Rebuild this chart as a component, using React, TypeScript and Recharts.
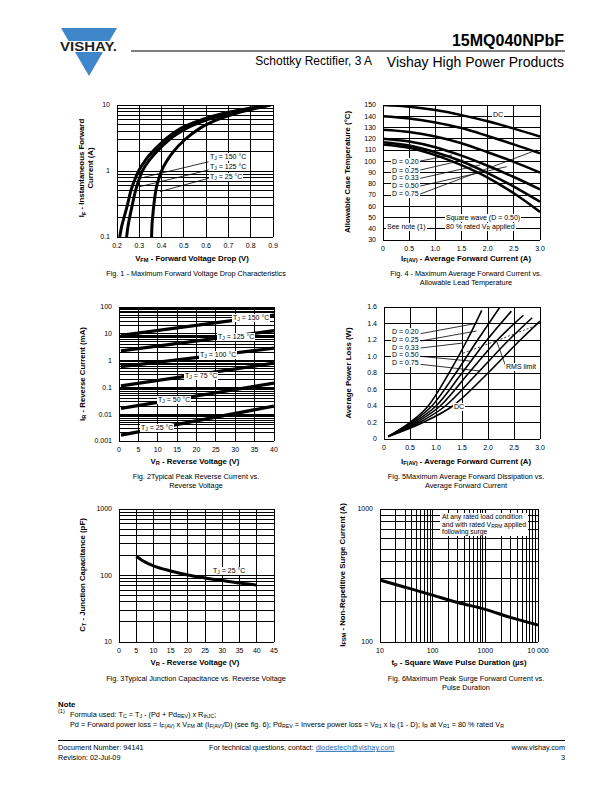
import { LineChart, Line, XAxis, YAxis, CartesianGrid, ReferenceLine } from "recharts";
import type { ReactNode } from "react";

// ─────────────────────────────────────────────────────────────────────────────
// Data
// ─────────────────────────────────────────────────────────────────────────────

// Fig. 1 - forward voltage drop (V) vs. instantaneous forward current (A)
const FIG1_X_TICKS = [0.2, 0.3, 0.4, 0.5, 0.6, 0.7, 0.8, 0.9];
const FIG1_Y_TICKS = [0.1, 0.2, 0.3, 0.4, 0.5, 0.6, 0.7, 0.8, 0.9, 1, 2, 3, 4, 5, 6, 7, 8, 9, 10];
const FIG1_Y_LABELS = [0.1, 1, 10];
const FIG1_TJ150 = [
  { v: 0.212, i: 0.1 }, { v: 0.222, i: 0.15 }, { v: 0.232, i: 0.2 }, { v: 0.246, i: 0.3 },
  { v: 0.262, i: 0.5 }, { v: 0.277, i: 0.7 }, { v: 0.297, i: 1 }, { v: 0.33, i: 1.5 },
  { v: 0.362, i: 2 }, { v: 0.415, i: 3 }, { v: 0.49, i: 4.5 }, { v: 0.58, i: 6 },
  { v: 0.68, i: 7.5 }, { v: 0.8, i: 9 }, { v: 0.87, i: 10 },
];
const FIG1_TJ125 = [
  { v: 0.243, i: 0.1 }, { v: 0.25, i: 0.15 }, { v: 0.257, i: 0.2 }, { v: 0.268, i: 0.3 },
  { v: 0.283, i: 0.5 }, { v: 0.296, i: 0.7 }, { v: 0.314, i: 1 }, { v: 0.348, i: 1.5 },
  { v: 0.38, i: 2 }, { v: 0.435, i: 3 }, { v: 0.515, i: 4.5 }, { v: 0.605, i: 6 },
  { v: 0.705, i: 7.5 }, { v: 0.815, i: 9 }, { v: 0.88, i: 10 },
];
const FIG1_TJ25 = [
  { v: 0.355, i: 0.1 }, { v: 0.357, i: 0.15 }, { v: 0.36, i: 0.2 }, { v: 0.365, i: 0.3 },
  { v: 0.374, i: 0.5 }, { v: 0.384, i: 0.7 }, { v: 0.4, i: 1 }, { v: 0.428, i: 1.5 },
  { v: 0.455, i: 2 }, { v: 0.505, i: 3 }, { v: 0.575, i: 4.5 }, { v: 0.65, i: 6 },
  { v: 0.735, i: 7.5 }, { v: 0.83, i: 9 }, { v: 0.89, i: 10 },
];
const FIG1_LEADERS = [
  [{ x: 0.611, y: 1.38 }, { x: 0.302, y: 0.775 }],
  [{ x: 0.611, y: 1.035 }, { x: 0.302, y: 0.58 }],
  [{ x: 0.611, y: 0.775 }, { x: 0.393, y: 0.488 }],
];

// Fig. 4 - average forward current (A) vs. allowable case temperature (°C)
const FIG4_X_TICKS = [0, 0.5, 1, 1.5, 2, 2.5, 3];
const FIG4_X_LABELS = ["0", "0.5", "1.0", "1.5", "2.0", "2.5", "3.0"];
const FIG4_Y_TICKS = [30, 40, 50, 60, 70, 80, 90, 100, 110, 120, 130, 140, 150];
const FIG4_DC = [
  { a: 0, t: 150 }, { a: 0.5, t: 148.5 }, { a: 1, t: 145.5 }, { a: 1.5, t: 141 },
  { a: 2, t: 135.5 }, { a: 2.5, t: 129 }, { a: 3, t: 122 },
];
const FIG4_D075 = [
  { a: 0, t: 140 }, { a: 0.5, t: 138 }, { a: 1, t: 134.5 }, { a: 1.5, t: 129.5 },
  { a: 2, t: 122.5 }, { a: 2.5, t: 115 }, { a: 3, t: 107 },
];
const FIG4_D050 = [
  { a: 0, t: 128 }, { a: 0.5, t: 126 }, { a: 1, t: 122 }, { a: 1.5, t: 116 },
  { a: 2, t: 108 }, { a: 2.5, t: 99.5 }, { a: 3, t: 90 },
];
const FIG4_D033 = [
  { a: 0, t: 120 }, { a: 0.5, t: 117.5 }, { a: 1, t: 112.5 }, { a: 1.5, t: 105 },
  { a: 2, t: 96 }, { a: 2.5, t: 86 }, { a: 3, t: 75 },
];
const FIG4_D025 = [
  { a: 0, t: 117 }, { a: 0.5, t: 114 }, { a: 1, t: 108 }, { a: 1.5, t: 100 },
  { a: 2, t: 89.5 }, { a: 2.5, t: 77.5 }, { a: 3, t: 64 },
];
const FIG4_D020 = [
  { a: 0, t: 115 }, { a: 0.5, t: 112 }, { a: 1, t: 105.5 }, { a: 1.5, t: 96.5 },
  { a: 2, t: 85.5 }, { a: 2.5, t: 71.5 }, { a: 3, t: 55 },
];
const FIG4_LEADERS = [
  [{ x: 0.712, y: 100.2 }, { x: 1.316, y: 105.6 }],
  [{ x: 0.712, y: 92.2 }, { x: 1.538, y: 101.1 }],
  [{ x: 0.712, y: 84.8 }, { x: 1.856, y: 96.7 }],
  [{ x: 0.712, y: 78 }, { x: 2.365, y: 95.2 }],
  [{ x: 0.712, y: 70.9 }, { x: 2.937, y: 110 }],
];
const DUTY_LABELS = ["D = 0.20", "D = 0.25", "D = 0.33", "D = 0.50", "D = 0.75"];

// Fig. 2 - reverse voltage (V) vs. reverse current (mA)
const FIG2_X_TICKS = [0, 5, 10, 15, 20, 25, 30, 35, 40];
const FIG2_Y_TICKS = [
  0.001, 0.002, 0.003, 0.004, 0.005, 0.006, 0.007, 0.008, 0.009,
  0.01, 0.02, 0.03, 0.04, 0.05, 0.06, 0.07, 0.08, 0.09,
  0.1, 0.2, 0.3, 0.4, 0.5, 0.6, 0.7, 0.8, 0.9,
  1, 2, 3, 4, 5, 6, 7, 8, 9,
  10, 20, 30, 40, 50, 60, 70, 80, 90, 100,
];
const FIG2_Y_LABELS = [0.001, 0.01, 0.1, 1, 10, 100];
const FIG2_TJ150 = [{ v: 0.5, i: 8.8 }, { v: 40, i: 50 }];
const FIG2_TJ125 = [{ v: 0.5, i: 2.3 }, { v: 40, i: 13 }];
const FIG2_TJ100 = [{ v: 0.5, i: 0.6 }, { v: 40, i: 2.9 }];
const FIG2_TJ75 = [{ v: 0.5, i: 0.115 }, { v: 40, i: 0.8 }];
const FIG2_TJ50 = [{ v: 0.5, i: 0.0165 }, { v: 40, i: 0.145 }];
const FIG2_TJ25 = [{ v: 0.5, i: 0.00165 }, { v: 40, i: 0.02 }];

// Fig. 5 - average forward current (A) vs. average power loss (W)
const FIG5_X_TICKS = [0, 0.5, 1, 1.5, 2, 2.5, 3];
const FIG5_Y_TICKS = [0, 0.2, 0.4, 0.6, 0.8, 1.0, 1.2, 1.4, 1.6];
const FIG5_Y_LABELS = ["0", "0.2", "0.4", "0.6", "0.8", "1.0", "1.2", "1.4", "1.6"];
const FIG5_D020 = [
  { a: 0.08, p: 0.03 }, { a: 0.5, p: 0.2 }, { a: 0.85, p: 0.4 }, { a: 1.25, p: 0.8 },
  { a: 1.6, p: 1.2 }, { a: 1.88, p: 1.56 },
];
const FIG5_D025 = [
  { a: 0.08, p: 0.03 }, { a: 0.53, p: 0.2 }, { a: 0.92, p: 0.4 }, { a: 1.38, p: 0.8 },
  { a: 1.8, p: 1.2 }, { a: 2.23, p: 1.6 },
];
const FIG5_D033 = [
  { a: 0.08, p: 0.03 }, { a: 0.57, p: 0.2 }, { a: 1.0, p: 0.4 }, { a: 1.5, p: 0.8 },
  { a: 1.98, p: 1.2 }, { a: 2.45, p: 1.55 },
];
const FIG5_D050 = [
  { a: 0.08, p: 0.03 }, { a: 0.62, p: 0.2 }, { a: 1.08, p: 0.4 }, { a: 1.63, p: 0.8 },
  { a: 2.18, p: 1.2 }, { a: 2.68, p: 1.5 },
];
const FIG5_D075 = [
  { a: 0.08, p: 0.03 }, { a: 0.68, p: 0.2 }, { a: 1.18, p: 0.4 }, { a: 1.8, p: 0.8 },
  { a: 2.4, p: 1.2 }, { a: 2.85, p: 1.47 },
];
const FIG5_DC = [
  { a: 0.08, p: 0.03 }, { a: 0.75, p: 0.2 }, { a: 1.32, p: 0.4 }, { a: 2.0, p: 0.8 },
  { a: 2.62, p: 1.2 }, { a: 3.0, p: 1.43 },
];
const FIG5_RMS = [{ a: 1.52, p: 1.04 }, { a: 2.2, p: 1.2 }, { a: 2.94, p: 1.38 }];
const FIG5_LEADERS = [
  [{ x: 0.705, y: 1.277 }, { x: 1.814, y: 1.406 }],
  [{ x: 0.705, y: 1.188 }, { x: 1.782, y: 1.309 }],
  [{ x: 0.705, y: 1.103 }, { x: 1.526, y: 1.164 }],
  [{ x: 0.705, y: 1.002 }, { x: 1.654, y: 0.945 }],
  [{ x: 0.705, y: 0.905 }, { x: 1.846, y: 0.824 }],
  [{ x: 2.33, y: 0.9 }, { x: 2.17, y: 1.18 }],
];

// Fig. 3 - reverse voltage (V) vs. junction capacitance (pF)
const FIG3_X_TICKS = [0, 5, 10, 15, 20, 25, 30, 35, 40, 45];
const FIG3_Y_TICKS = [10, 20, 30, 40, 50, 60, 70, 80, 90, 100, 200, 300, 400, 500, 600, 700, 800, 900, 1000];
const FIG3_Y_LABELS = [10, 100, 1000];
const FIG3_TJ25 = [
  { v: 5, c: 195 }, { v: 7.5, c: 160 }, { v: 10, c: 140 }, { v: 15, c: 117 }, { v: 20, c: 102 },
  { v: 25, c: 92 }, { v: 30, c: 84 }, { v: 35, c: 77 }, { v: 40, c: 72 },
];

// Fig. 6 - pulse duration (µs) vs. non-repetitive surge current (A)
const FIG6_X_TICKS = [
  10, 20, 30, 40, 50, 60, 70, 80, 90, 100, 200, 300, 400, 500, 600, 700, 800, 900,
  1000, 2000, 3000, 4000, 5000, 6000, 7000, 8000, 9000, 10000,
];
const FIG6_X_LABELS: Record<number, string> = { 10: "10", 100: "100", 1000: "1000", 10000: "10 000" };
const FIG6_Y_TICKS = [100, 200, 300, 400, 500, 600, 700, 800, 900, 1000];
const FIG6_Y_LABELS = [100, 1000];
const FIG6_IFSM = [
  { t: 10, i: 292 }, { t: 30, i: 258 }, { t: 100, i: 225 }, { t: 300, i: 198 },
  { t: 1000, i: 176 }, { t: 3000, i: 153 }, { t: 10000, i: 134 },
];

// ─────────────────────────────────────────────────────────────────────────────
// Shared bits
// ─────────────────────────────────────────────────────────────────────────────

const FONT = '"Liberation Sans", Arial, Helvetica, sans-serif';
const TICK = { fontSize: 7, fill: "#000", fontFamily: FONT };

type Box = { x: number; y: number; w: number; h: number };

const B1: Box = { x: 117, y: 105, w: 156, h: 132 };
const B4: Box = { x: 383, y: 105, w: 157, h: 135 };
const B2: Box = { x: 119, y: 307, w: 155, h: 134 };
const B5: Box = { x: 384, y: 307, w: 156, h: 132 };
const B3: Box = { x: 119, y: 509, w: 155, h: 133 };
const B6: Box = { x: 380, y: 509, w: 158, h: 133 };

// plot area lands on box: left offset 10 + y-axis 30, top 10
function Frame({ box, children }: { box: Box; children: ReactNode }) {
  return (
    <div style={{ position: "absolute", left: box.x - 40, top: box.y - 10 }}>
      <LineChart
        width={box.w + 60}
        height={box.h + 35}
        margin={{ top: 10, right: 20, bottom: 5, left: 10 }}
      >
        {children}
      </LineChart>
    </div>
  );
}

const xAxisProps = {
  type: "number" as const,
  allowDataOverflow: true,
  tickLine: false,
  axisLine: false,
  tick: TICK,
  tickSize: 3,
  tickMargin: 3,
  interval: 0 as const,
  height: 20,
};

const yAxisProps = {
  type: "number" as const,
  allowDataOverflow: true,
  tickLine: false,
  axisLine: false,
  tick: TICK,
  tickSize: 3,
  tickMargin: 4,
  interval: 0 as const,
  width: 30,
};

const grid = <CartesianGrid stroke="#000" strokeWidth={1} shapeRendering="crispEdges" />;

function Sb({ children }: { children: ReactNode }) {
  return (
    <sub style={{ fontSize: "0.72em", verticalAlign: "-0.3em", lineHeight: 0 }}>{children}</sub>
  );
}

function Txt({
  x,
  y,
  size = 7,
  bold = false,
  anchor = "start",
  bg = false,
  color = "#000",
  children,
}: {
  x: number;
  y: number;
  size?: number;
  bold?: boolean;
  anchor?: "start" | "middle" | "end";
  bg?: boolean;
  color?: string;
  children: ReactNode;
}) {
  const tx = anchor === "middle" ? "-50%" : anchor === "end" ? "-100%" : "0";
  return (
    <div
      style={{
        position: "absolute",
        left: x,
        top: y,
        transform: `translate(${tx}, -50%)`,
        fontSize: size,
        fontWeight: bold ? 700 : 400,
        whiteSpace: "nowrap",
        lineHeight: 1.15,
        background: bg ? "#fff" : "transparent",
        padding: bg ? "0 1px" : 0,
        color,
        fontFamily: FONT,
      }}
    >
      {children}
    </div>
  );
}

function VTxt({ x, y, children }: { x: number; y: number; children: ReactNode }) {
  return (
    <div
      style={{
        position: "absolute",
        left: x,
        top: y,
        transform: "translate(-50%, -50%) rotate(-90deg)",
        fontSize: 7.8,
        fontWeight: 700,
        whiteSpace: "nowrap",
        textAlign: "center",
        lineHeight: "9px",
        fontFamily: FONT,
      }}
    >
      {children}
    </div>
  );
}

const curve = (data: object[], key: string, width: number, dash?: string) => (
  <Line
    data={data}
    dataKey={key}
    type="monotone"
    stroke="#000"
    strokeWidth={width}
    strokeDasharray={dash}
    dot={false}
    activeDot={false}
    isAnimationActive={false}
  />
);

const leader = (seg: { x: number; y: number }[], k: number) => (
  <ReferenceLine key={k} segment={seg} stroke="#000" strokeWidth={0.8} />
);

// ─────────────────────────────────────────────────────────────────────────────
// Page
// ─────────────────────────────────────────────────────────────────────────────

export default function App() {
  return (
    <div
      style={{
        position: "absolute",
        left: 0,
        top: 0,
        width: 612,
        height: 792,
        background: "#fff",
        overflow: "hidden",
        fontFamily: FONT,
      }}
    >
      {/* Header */}
      <svg style={{ position: "absolute", left: 0, top: 0 }} width={612} height={90}>
        <polygon points="61,28 117,28 89,76" fill="#3f86cb" />
        <rect x={55} y={41} width={70} height={11} fill="#fff" />
        <text
          x={60}
          y={50.5}
          fontFamily={FONT}
          fontWeight="bold"
          fontSize={12}
          textLength={57}
          lengthAdjust="spacingAndGlyphs"
          fill="#231f20"
        >
          VISHAY.
        </text>
        <line x1={131} y1={51} x2={565} y2={51} stroke="#000" strokeWidth={1.2} />
      </svg>
      <Txt x={564} y={41} size={16} bold anchor="end">15MQ040NPbF</Txt>
      <Txt x={372} y={62} size={12} anchor="end">Schottky Rectifier, 3 A</Txt>
      <Txt x={564} y={62} size={14} anchor="end">Vishay High Power Products</Txt>

      {/* Fig. 1 */}
      <Frame box={B1}>
        {grid}
        <XAxis {...xAxisProps} dataKey="v" domain={[0.2, 0.9]} ticks={FIG1_X_TICKS} />
        <YAxis
          {...yAxisProps}
          scale="log"
          domain={[0.1, 10]}
          ticks={FIG1_Y_TICKS}
          tickFormatter={(v: number) => (FIG1_Y_LABELS.includes(v) ? String(v) : "")}
        />
        {FIG1_LEADERS.map(leader)}
        {curve(FIG1_TJ150, "i", 3)}
        {curve(FIG1_TJ125, "i", 3)}
        {curve(FIG1_TJ25, "i", 3)}
      </Frame>
      <Txt x={209} y={157} bg>T<Sb>J</Sb> = 150 °C</Txt>
      <Txt x={209} y={167} bg>T<Sb>J</Sb> = 125 °C</Txt>
      <Txt x={209} y={177} bg>T<Sb>J</Sb> = 25 °C</Txt>
      <VTxt x={86} y={168}>
        I<Sb>F</Sb> - Instantaneous Forward
        <br />
        Current (A)
      </VTxt>
      <Txt x={192} y={259} size={7.8} bold anchor="middle">
        V<Sb>FM</Sb> - Forward Voltage Drop (V)
      </Txt>
      <Txt x={196} y={274} size={7.3} anchor="middle">
        Fig. 1 - Maximum Forward Voltage Drop Characteristics
      </Txt>

      {/* Fig. 4 */}
      <Frame box={B4}>
        {grid}
        <XAxis
          {...xAxisProps}
          dataKey="a"
          domain={[0, 3]}
          ticks={FIG4_X_TICKS}
          tickFormatter={(v: number) => FIG4_X_LABELS[FIG4_X_TICKS.indexOf(v)] ?? ""}
        />
        <YAxis {...yAxisProps} domain={[30, 150]} ticks={FIG4_Y_TICKS} />
        {FIG4_LEADERS.map(leader)}
        {curve(FIG4_DC, "t", 2.5)}
        {curve(FIG4_D075, "t", 2.5)}
        {curve(FIG4_D050, "t", 2.5)}
        {curve(FIG4_D033, "t", 2.5)}
        {curve(FIG4_D025, "t", 2.5)}
        {curve(FIG4_D020, "t", 2.5)}
      </Frame>
      {DUTY_LABELS.map((d, k) => (
        <Txt key={d} x={391} y={[161.7, 170.5, 178.3, 186, 194][k]} bg>{d}</Txt>
      ))}
      <Txt x={498} y={115} anchor="middle" bg>DC</Txt>
      <Txt x={445} y={217.7} bg>Square wave (D = 0.50)</Txt>
      <Txt x={445} y={226.7} bg>80 % rated V<Sb>R</Sb> applied</Txt>
      <Txt x={386} y={227} bg>See note (1)</Txt>
      <VTxt x={347} y={172}>Allowable Case Temperature (°C)</VTxt>
      <Txt x={466} y={259} size={7.8} bold anchor="middle">
        I<Sb>F(AV)</Sb> - Average Forward Current (A)
      </Txt>
      <Txt x={466} y={274} size={7.3} anchor="middle">
        Fig. 4 - Maximum Average Forward Current vs.
      </Txt>
      <Txt x={466} y={283} size={7.3} anchor="middle">Allowable Lead Temperature</Txt>

      {/* Fig. 2 */}
      <Frame box={B2}>
        {grid}
        <XAxis {...xAxisProps} dataKey="v" domain={[0, 40]} ticks={FIG2_X_TICKS} />
        <YAxis
          {...yAxisProps}
          scale="log"
          domain={[0.001, 100]}
          ticks={FIG2_Y_TICKS}
          tickFormatter={(v: number) => (FIG2_Y_LABELS.includes(v) ? String(v) : "")}
        />
        {curve(FIG2_TJ150, "i", 3.3)}
        {curve(FIG2_TJ125, "i", 3.3)}
        {curve(FIG2_TJ100, "i", 3.3)}
        {curve(FIG2_TJ75, "i", 3.3)}
        {curve(FIG2_TJ50, "i", 3.3)}
        {curve(FIG2_TJ25, "i", 3.3)}
      </Frame>
      <Txt x={232} y={318} bg>T<Sb>J</Sb> = 150 °C</Txt>
      <Txt x={217} y={337} bg>T<Sb>J</Sb> = 125 °C</Txt>
      <Txt x={199} y={355} bg>T<Sb>J</Sb> = 100 °C</Txt>
      <Txt x={184} y={376} bg>T<Sb>J</Sb> = 75 °C</Txt>
      <Txt x={157} y={400} bg>T<Sb>J</Sb> = 50 °C</Txt>
      <Txt x={140} y={428} bg>T<Sb>J</Sb> = 25 °C</Txt>
      <VTxt x={82} y={374}>
        I<Sb>R</Sb> - Reverse Current (mA)
      </VTxt>
      <Txt x={195} y={462} size={7.8} bold anchor="middle">
        V<Sb>R</Sb> - Reverse Voltage (V)
      </Txt>
      <Txt x={196} y={477} size={7.3} anchor="middle">
        Fig. 2Typical Peak Reverse Current vs.
      </Txt>
      <Txt x={196} y={486} size={7.3} anchor="middle">Reverse Voltage</Txt>

      {/* Fig. 5 */}
      <Frame box={B5}>
        {grid}
        <XAxis
          {...xAxisProps}
          dataKey="a"
          domain={[0, 3]}
          ticks={FIG5_X_TICKS}
          tickFormatter={(v: number) => FIG4_X_LABELS[FIG5_X_TICKS.indexOf(v)] ?? ""}
        />
        <YAxis
          {...yAxisProps}
          domain={[0, 1.6]}
          ticks={FIG5_Y_TICKS}
          tickFormatter={(v: number) => FIG5_Y_LABELS[FIG5_Y_TICKS.indexOf(v)] ?? ""}
        />
        {FIG5_LEADERS.map(leader)}
        {curve(FIG5_D020, "p", 1.6)}
        {curve(FIG5_D025, "p", 1.6)}
        {curve(FIG5_D033, "p", 1.6)}
        {curve(FIG5_D050, "p", 1.6)}
        {curve(FIG5_D075, "p", 1.6)}
        {curve(FIG5_DC, "p", 1.6)}
        {curve(FIG5_RMS, "p", 0.8, "2 2")}
      </Frame>
      {DUTY_LABELS.map((d, k) => (
        <Txt key={d} x={391} y={[332.3, 340, 347.7, 355, 363.3][k]} bg>{d}</Txt>
      ))}
      <Txt x={505} y={367} bg>RMS limit</Txt>
      <Txt x={459} y={407} anchor="middle" bg>DC</Txt>
      <VTxt x={348} y={373}>Average Power Loss (W)</VTxt>
      <Txt x={466} y={462} size={7.8} bold anchor="middle">
        I<Sb>F(AV)</Sb> - Average Forward Current (A)
      </Txt>
      <Txt x={466} y={477} size={7.3} anchor="middle">
        Fig. 5Maximum Average Forward Dissipation vs.
      </Txt>
      <Txt x={466} y={486} size={7.3} anchor="middle">Average Forward Current</Txt>

      {/* Fig. 3 */}
      <Frame box={B3}>
        {grid}
        <XAxis {...xAxisProps} dataKey="v" domain={[0, 45]} ticks={FIG3_X_TICKS} />
        <YAxis
          {...yAxisProps}
          scale="log"
          domain={[10, 1000]}
          ticks={FIG3_Y_TICKS}
          tickFormatter={(v: number) => (FIG3_Y_LABELS.includes(v) ? String(v) : "")}
        />
        {curve(FIG3_TJ25, "c", 3)}
      </Frame>
      <Txt x={212} y={571} bg>T<Sb>J</Sb> = 25 °C</Txt>
      <VTxt x={82} y={575}>
        C<Sb>T</Sb> - Junction Capacitance (pF)
      </VTxt>
      <Txt x={195} y={663} size={7.8} bold anchor="middle">
        V<Sb>R</Sb> - Reverse Voltage (V)
      </Txt>
      <Txt x={196} y={679} size={7.3} anchor="middle">
        Fig. 3Typical Junction Capacitance vs. Reverse Voltage
      </Txt>

      {/* Fig. 6 */}
      <Frame box={B6}>
        {grid}
        <XAxis
          {...xAxisProps}
          dataKey="t"
          scale="log"
          domain={[10, 10000]}
          ticks={FIG6_X_TICKS}
          tickFormatter={(v: number) => FIG6_X_LABELS[v] ?? ""}
        />
        <YAxis
          {...yAxisProps}
          scale="log"
          domain={[100, 1000]}
          ticks={FIG6_Y_TICKS}
          tickFormatter={(v: number) => (FIG6_Y_LABELS.includes(v) ? String(v) : "")}
        />
        {curve(FIG6_IFSM, "i", 3)}
      </Frame>
      <div
        style={{
          position: "absolute",
          left: 440,
          top: 513,
          background: "#fff",
          padding: "0 2px",
          fontSize: 6.8,
          lineHeight: "7.6px",
          fontFamily: FONT,
        }}
      >
        At any rated load condition
        <br />
        and with rated V<Sb>RRM</Sb> applied
        <br />
        following surge
      </div>
      <VTxt x={342} y={575}>
        I<Sb>FSM</Sb> - Non-Repetitive Surge Current (A)
      </VTxt>
      <Txt x={459} y={663} size={7.8} bold anchor="middle">
        t<Sb>p</Sb> - Square Wave Pulse Duration (µs)
      </Txt>
      <Txt x={466} y={679} size={7.3} anchor="middle">
        Fig. 6Maximum Peak Surge Forward Current vs.
      </Txt>
      <Txt x={466} y={688} size={7.3} anchor="middle">Pulse Duration</Txt>

      {/* Note + footer */}
      <Txt x={58} y={705} size={7.8} bold>Note</Txt>
      <div style={{ position: "absolute", left: 58, top: 708, fontSize: 5.5, fontFamily: FONT }}>(1)</div>
      <Txt x={70} y={715} size={7.3}>
        Formula used: T<Sb>C</Sb> = T<Sb>J</Sb> - (Pd + Pd<Sb>REV</Sb>) x R<Sb>thJC</Sb>;
      </Txt>
      <Txt x={70} y={725} size={7.3}>
        Pd = Forward power loss = I<Sb>F(AV)</Sb> x V<Sb>FM</Sb> at (I<Sb>F(AV)</Sb>/D) (see fig. 6);
        Pd<Sb>REV</Sb> = Inverse power loss = V<Sb>R1</Sb> x I<Sb>R</Sb> (1 - D); I<Sb>R</Sb> at V
        <Sb>R1</Sb> = 80 % rated V<Sb>R</Sb>
      </Txt>
      <div style={{ position: "absolute", left: 58, top: 740, width: 507, height: 1, background: "#000" }} />
      <Txt x={58} y={748} size={7.3}>Document Number: 94141</Txt>
      <Txt x={58} y={758} size={7.3}>Revision: 02-Jul-09</Txt>
      <Txt x={209} y={748} size={7.3}>
        For technical questions, contact:{" "}
        <span style={{ color: "#1b6bb5", textDecoration: "underline" }}>diodestech@vishay.com</span>
      </Txt>
      <Txt x={565} y={748} size={7.3} anchor="end">www.vishay.com</Txt>
      <Txt x={565} y={758} size={7.3} anchor="end">3</Txt>
    </div>
  );
}
